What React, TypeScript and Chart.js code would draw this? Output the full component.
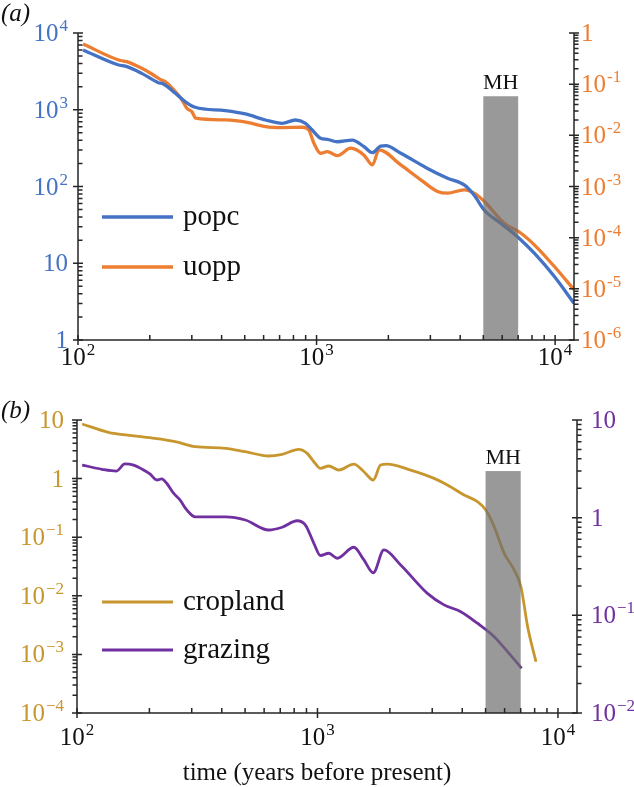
import React, { useEffect, useRef } from "react";
import { Chart, registerables } from "chart.js";
Chart.register(...registerables);

// ---------- data ----------
const popcYears = [105, 148, 158, 185, 217, 228, 256, 282, 310, 415, 503, 611, 718, 816, 899, 959, 1040, 1109, 1222, 1413, 1581, 1714, 1858, 1950, 2255, 2918, 3540, 4157, 4580, 5050, 5930, 6970, 8180, 9930, 12000];
const popcValues = [6000, 3830, 3700, 2980, 2250, 2170, 1640, 1270, 1077, 973, 881, 735, 666, 735, 666, 545, 425, 412, 383, 403, 330, 276, 337, 340, 271, 172, 128, 105, 77, 49, 33, 22, 13.5, 6.7, 3.0];

const uoppYears = [105, 148, 160, 185, 204, 221, 232, 256, 273, 286, 300, 312, 415, 519, 611, 718, 871, 928, 975, 1040, 1109, 1222, 1390, 1581, 1714, 1827, 2255, 2735, 3214, 3540, 4157, 4580, 5050, 6124, 7194, 8180, 9930, 12000];
const uoppValues = [0.61, 0.297, 0.275, 0.204, 0.158, 0.124, 0.112, 0.0714, 0.049, 0.0338, 0.029, 0.0216, 0.02, 0.0177, 0.0148, 0.0142, 0.0144, 0.0127, 0.007, 0.00447, 0.0048, 0.004, 0.0056, 0.0041, 0.00264, 0.0052, 0.00264, 0.00135, 0.0008, 0.00074, 0.00086, 0.00074, 0.00051, 0.000192, 0.000122, 7.24e-5, 2.73e-5, 9.6e-6];

const croplandYears = [105, 135, 169, 211, 256, 310, 414, 501, 627, 713, 836, 906, 966, 1029, 1114, 1227, 1416, 1560, 1706, 1830, 1950, 2441, 3055, 3470, 4070, 4625, 5010, 5430, 5975, 6580, 7015, 7480, 8100];
const croplandValues = [8.55, 6.17, 5.4, 4.87, 4.27, 3.5, 3.29, 2.88, 2.43, 2.6, 3.16, 2.7, 1.94, 1.5, 1.64, 1.4, 1.77, 1.31, 0.946, 1.71, 1.77, 1.4, 1.01, 0.778, 0.525, 0.404, 0.291, 0.151, 0.053, 0.0275, 0.0143, 0.00297, 0.00075];

const grazingYears = [105, 127, 146, 158, 172, 186, 201, 215, 225, 236, 252, 268, 286, 310, 414, 501, 627, 713, 823, 891, 966, 1029, 1114, 1208, 1416, 1560, 1706, 1889, 2218, 2864, 3359, 3943, 4625, 5430, 6170, 7060];
const grazingValues = [3.46, 3.13, 3.0, 3.55, 3.45, 3.15, 2.8, 2.43, 2.49, 2.25, 1.78, 1.52, 1.2, 1.02, 1.02, 0.947, 0.748, 0.798, 0.93, 0.84, 0.547, 0.41, 0.432, 0.384, 0.498, 0.369, 0.273, 0.467, 0.328, 0.168, 0.128, 0.109, 0.083, 0.0605, 0.0425, 0.0287];

const xTickValues = [100, 1000, 10000];
const xTickLabels = ["10^2", "10^3", "10^4"];

const aLeftTicks = [1, 10, 100, 1000, 10000];
const aLeftLabels = ["1", "10", "10^2", "10^3", "10^4"];
const aRightTicks = [1e-6, 1e-5, 1e-4, 1e-3, 1e-2, 1e-1, 1];
const aRightLabels = ["10^-6", "10^-5", "10^-4", "10^-3", "10^-2", "10^-1", "1"];

const bLeftTicks = [1e-4, 1e-3, 1e-2, 1e-1, 1, 10];
const bLeftLabels = ["10^\u22124", "10^\u22123", "10^\u22122", "10^\u22121", "1", "10"];
const bRightTicks = [1e-2, 1e-1, 1, 10];
const bRightLabels = ["10^\u22122", "10^\u22121", "1", "10"];

const mhRange = [5000, 7000];
const mhTopA = 1500; // on left axis of (a)
const mhTopB = 3; // on right axis of (b)

const xTitle = "time (years before present)";

const BLUE = "#4472C4";
const ORANGE = "#ED7D31";
const GOLD = "#C8962E";
const PURPLE = "#7030A0";
const FONT = '"Liberation Serif", "Times New Roman", serif';

const pts = (xs: number[], ys: number[]) => ys.map((y, i) => ({ x: xs[i], y }));

function minorTicks(min: number, max: number) {
  const out: number[] = [];
  for (let k = Math.floor(Math.log10(min)) - 1; k <= Math.ceil(Math.log10(max)); k++) {
    for (let d = 2; d <= 9; d++) {
      const v = d * Math.pow(10, k);
      if (v > min * 1.0001 && v < max * 0.9999) out.push(v);
    }
  }
  return out;
}

function drawPow(ctx: CanvasRenderingContext2D, label: string, x: number, y: number, align: string, color: string, size: number) {
  const [base, exp] = label.split("^");
  const es = Math.round(size * 0.66);
  ctx.font = `${size}px ${FONT}`;
  const wb = ctx.measureText(base).width;
  ctx.font = `${es}px ${FONT}`;
  const we = exp ? ctx.measureText(exp).width + 1 : 0;
  const total = wb + we;
  const x0 = align === "right" ? x - total : align === "center" ? x - total / 2 : x;
  ctx.fillStyle = color;
  ctx.textAlign = "left";
  ctx.textBaseline = "alphabetic";
  ctx.font = `${size}px ${FONT}`;
  ctx.fillText(base, x0, y);
  if (exp) {
    ctx.font = `${es}px ${FONT}`;
    ctx.fillText(exp, x0 + wb + 1, y - size * 0.4);
  }
}

type YAxisSpec = { id: string; side: "left" | "right"; ticks: number[]; labels: string[]; color: string; gap: number; minorOut: boolean };

type PanelSpec = {
  tag: string;
  tagY: number;
  yAxes: YAxisSpec[];
  xLabelOffset: number;
  mhTop: number;
  mhAxis: string;
  legendY: number[];
  lineWidth: number;
  title?: { text: string; x: number; y: number };
};

function makePlugin(spec: PanelSpec) {
  return {
    id: "panelDecor" + spec.tag,
    afterDatasetsDraw(chart: any) {
      const ctx: CanvasRenderingContext2D = chart.ctx;
      const xs = chart.scales.x;
      const ys = chart.scales[spec.mhAxis];
      const a = chart.chartArea;
      const x0 = xs.getPixelForValue(mhRange[0]);
      const x1 = xs.getPixelForValue(mhRange[1]);
      const yt = ys.getPixelForValue(spec.mhTop);
      ctx.save();
      ctx.fillStyle = "rgba(109,109,109,0.7)";
      ctx.fillRect(x0, yt, x1 - x0, a.bottom - yt);
      ctx.fillStyle = "#111";
      ctx.font = `22px ${FONT}`;
      ctx.textAlign = "center";
      ctx.textBaseline = "alphabetic";
      ctx.fillText("MH", (x0 + x1) / 2, yt - 7);
      ctx.restore();
    },
    afterDraw(chart: any) {
      const ctx: CanvasRenderingContext2D = chart.ctx;
      const a = chart.chartArea;
      const xs = chart.scales.x;
      ctx.save();
      ctx.strokeStyle = "#262626";
      ctx.lineWidth = 1.5;
      ctx.beginPath();
      ctx.moveTo(a.left, a.top);
      ctx.lineTo(a.left, a.bottom);
      ctx.lineTo(a.right, a.bottom);
      ctx.lineTo(a.right, a.top);
      ctx.stroke();

      // x ticks
      ctx.beginPath();
      xTickValues.forEach((v) => {
        if (v < xs.min || v > xs.max) return;
        const px = xs.getPixelForValue(v);
        ctx.moveTo(px, a.bottom + 5);
        ctx.lineTo(px, a.bottom - 5);
      });
      minorTicks(xs.min, xs.max).forEach((v) => {
        const px = xs.getPixelForValue(v);
        ctx.moveTo(px, a.bottom);
        ctx.lineTo(px, a.bottom - 5);
      });
      ctx.stroke();
      xTickValues.forEach((v, i) => {
        if (v < xs.min || v > xs.max) return;
        drawPow(ctx, xTickLabels[i], xs.getPixelForValue(v), a.bottom + spec.xLabelOffset, "center", "#111", 25);
      });

      // y axes
      spec.yAxes.forEach((ax) => {
        const sc = chart.scales[ax.id];
        const edge = ax.side === "left" ? a.left : a.right;
        const outDir = ax.side === "left" ? -1 : 1;
        ctx.beginPath();
        ax.ticks.forEach((v) => {
          const py = sc.getPixelForValue(v);
          ctx.moveTo(edge - 5, py);
          ctx.lineTo(edge + 5, py);
        });
        minorTicks(sc.min, sc.max).forEach((v) => {
          const py = sc.getPixelForValue(v);
          const dir = ax.minorOut ? outDir : -outDir;
          ctx.moveTo(edge, py);
          ctx.lineTo(edge + dir * 4.5, py);
        });
        ctx.stroke();
        ax.ticks.forEach((v, i) => {
          const py = sc.getPixelForValue(v);
          const lx = ax.side === "left" ? edge - ax.gap : edge + ax.gap;
          drawPow(ctx, ax.labels[i], lx, py + 8, ax.side === "left" ? "right" : "left", ax.color, 25);
        });
      });

      // legend
      chart.data.datasets.forEach((ds: any, i: number) => {
        const ly = spec.legendY[i];
        ctx.strokeStyle = ds.borderColor;
        ctx.lineWidth = spec.lineWidth;
        ctx.beginPath();
        ctx.moveTo(102, ly);
        ctx.lineTo(173, ly);
        ctx.stroke();
        ctx.fillStyle = "#111";
        ctx.font = `29px ${FONT}`;
        ctx.textAlign = "left";
        ctx.textBaseline = "alphabetic";
        ctx.fillText(ds.label, 183, ly + 8);
      });

      // panel tag
      ctx.fillStyle = "#111";
      ctx.font = `italic 25px ${FONT}`;
      ctx.textAlign = "left";
      ctx.fillText(spec.tag, 1, spec.tagY);

      if (spec.title) {
        ctx.font = `25px ${FONT}`;
        ctx.textAlign = "center";
        ctx.fillText(spec.title.text, spec.title.x, spec.title.y);
      }
      ctx.restore();
    },
  };
}

function buildChart(canvas: HTMLCanvasElement, datasets: any[], padding: any, yL: number[], yR: number[], spec: PanelSpec) {
  return new Chart(canvas, {
    type: "line",
    data: { datasets },
    options: {
      responsive: false,
      animation: false,
      devicePixelRatio: 1,
      layout: { padding },
      plugins: { legend: { display: false }, tooltip: { enabled: false } },
      elements: { point: { radius: 0 } },
      scales: {
        x: { type: "logarithmic", min: 100, max: 12000, display: false },
        yL: { type: "logarithmic", position: "left", min: yL[0], max: yL[1], display: false },
        yR: { type: "logarithmic", position: "right", min: yR[0], max: yR[1], display: false },
      },
    },
    plugins: [makePlugin(spec) as any],
  } as any);
}

export default function App() {
  const topRef = useRef<HTMLCanvasElement>(null);
  const botRef = useRef<HTMLCanvasElement>(null);

  useEffect(() => {
    const lineOpts = (lw: number) => ({ borderWidth: lw, cubicInterpolationMode: "monotone", fill: false, pointRadius: 0 });
    const top = buildChart(
      topRef.current!,
      [
        { label: "popc", data: pts(popcYears, popcValues), borderColor: BLUE, yAxisID: "yL", ...lineOpts(3.3) },
        { label: "uopp", data: pts(uoppYears, uoppValues), borderColor: ORANGE, yAxisID: "yR", ...lineOpts(3.3) },
      ],
      { left: 78, right: 60, top: 33, bottom: 40 },
      [1, 10000],
      [1e-6, 1],
      {
        tag: "(a)",
        tagY: 21,
        yAxes: [
          { id: "yL", side: "left", ticks: aLeftTicks, labels: aLeftLabels, color: BLUE, gap: 10, minorOut: false },
          { id: "yR", side: "right", ticks: aRightTicks, labels: aRightLabels, color: ORANGE, gap: 7, minorOut: true },
        ],
        xLabelOffset: 25,
        mhTop: mhTopA,
        mhAxis: "yL",
        legendY: [217, 267],
        lineWidth: 3.3,
      }
    );
    const bot = buildChart(
      botRef.current!,
      [
        { label: "cropland", data: pts(croplandYears, croplandValues), borderColor: GOLD, yAxisID: "yL", ...lineOpts(2.8) },
        { label: "grazing", data: pts(grazingYears, grazingValues), borderColor: PURPLE, yAxisID: "yR", ...lineOpts(2.8) },
      ],
      { left: 77, right: 57, top: 40, bottom: 74 },
      [1e-4, 10],
      [1e-2, 10],
      {
        tag: "(b)",
        tagY: 38,
        yAxes: [
          { id: "yL", side: "left", ticks: bLeftTicks, labels: bLeftLabels, color: GOLD, gap: 13, minorOut: true },
          { id: "yR", side: "right", ticks: bRightTicks, labels: bRightLabels, color: PURPLE, gap: 14, minorOut: true },
        ],
        xLabelOffset: 32,
        mhTop: mhTopB,
        mhAxis: "yR",
        legendY: [222, 270],
        lineWidth: 2.8,
        title: { text: xTitle, x: 317, y: 400 },
      }
    );
    return () => {
      top.destroy();
      bot.destroy();
    };
  }, []);

  return (
    <div style={{ position: "absolute", left: 0, top: 0, width: 634, height: 787, background: "#fff" }}>
      <canvas ref={topRef} width={634} height={380} style={{ position: "absolute", left: 0, top: 0, width: 634, height: 380 }} />
      <canvas ref={botRef} width={634} height={407} style={{ position: "absolute", left: 0, top: 380, width: 634, height: 407 }} />
    </div>
  );
}
